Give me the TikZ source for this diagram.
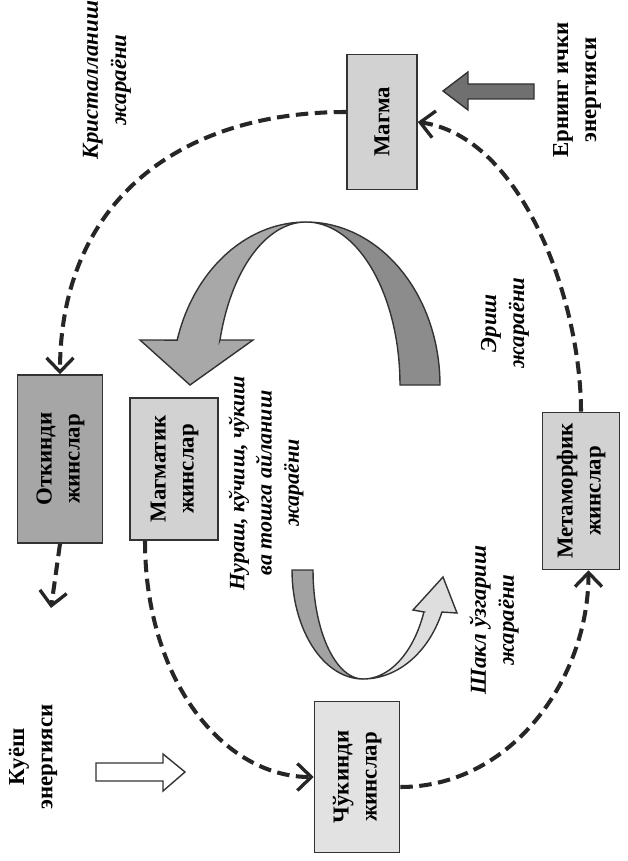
\documentclass[tikz,border=0pt]{standalone}
\usepackage{fontspec}
\setmainfont{Liberation Serif}
\usepackage{graphicx}
\usetikzlibrary{arrows.meta, positioning, calc}

\definecolor{boxlight}{HTML}{D2D2D2}
\definecolor{boxpale}{HTML}{E2E2E2}
\definecolor{boxdark}{HTML}{A6A6A6}
\definecolor{bigleft}{HTML}{A8A8A8}
\definecolor{bigright}{HTML}{8C8C8C}
\definecolor{smallleft}{HTML}{A2A2A2}
\definecolor{smallright}{HTML}{DEDEDE}
\definecolor{earthfill}{HTML}{707070}

\newcommand{\twolines}[2]{\rotatebox{90}{\begin{tabular}{@{}c@{}}#1\\#2\end{tabular}}}

\begin{document}
\begin{tikzpicture}[x=0.02cm, y=-0.02cm,
    rockbox/.style={draw=black!80, line width=0.9pt, inner sep=0pt,
      font=\bfseries\fontsize{13}{16}\selectfont},
    cycleline/.style={draw=black!85, line width=2.3pt, dash pattern=on 2.5mm off 1.3mm,
      -{Straight Barb[length=2.8mm, width=5.4mm, line width=1.9pt]}},
    proclabel/.style={rotate=90, align=center, font=\bfseries\itshape\fontsize{13}{16}\selectfont},
    energylabel/.style={rotate=90, align=center, font=\bfseries\fontsize{13}{16}\selectfont}]

      \useasboundingbox[fill=white] (0,0) rectangle (627,861);

      % rock boxes
      \node[rockbox, fill=boxlight, minimum width=1.4cm, minimum height=2.7cm] (magma) at (382,122) {\rotatebox{90}{Магма}};
      \node[rockbox, fill=boxdark, minimum width=1.7cm, minimum height=3.36cm] (otk) at (60,459) {\twolines{Откинди}{жинслар}};
      \node[rockbox, fill=boxlight, minimum width=1.76cm, minimum height=2.84cm] (magmatic) at (174,469) {\twolines{Магматик}{жинслар}};
      \node[rockbox, fill=boxlight, minimum width=1.54cm, minimum height=3.14cm] (metam) at (581,491) {\twolines{Метаморфик}{жинслар}};
      \node[rockbox, fill=boxpale, minimum width=1.7cm, minimum height=3.02cm] (chuk) at (357,777) {\twolines{Чўкинди}{жинслар}};

      % process labels
      \node[proclabel] (crystlabel) at (107,80) {Кристалланиш\\жараёни};
      \node[proclabel] (meltlabel) at (505,323) {Эриш\\жараёни};
      \node[proclabel, font=\bfseries\itshape\fontsize{12.5}{15.5}\selectfont] (weatherlabel) at (266,483) {Нураш, кўчиш, чўкиш\\ва тошга айланиш\\жараёни};
      \node[proclabel] (shapelabel) at (494,620) {Шакл ўзгариш\\жараёни};
      \node[energylabel] (earthlabel) at (577,90) {Ернинг ички\\энергияси};
      \node[energylabel] (sunlabel) at (33,757) {Куёш\\энергияси};

      % dashed cycle
      \coordinate (magmaout) at ([yshift=0.2cm]magma.west);
      \draw[cycleline] (metam.north) .. controls +(0,-110) and +(105,15) .. (magma.east);
      \draw[cycleline] (magmaout) .. controls +(-170,0) and +(0,-170) .. (otk.north);
      \coordinate (otkend) at (51,608);
      \draw[cycleline] (otk.south) -- (otkend);
      \draw[cycleline] ([xshift=-0.58cm]magmatic.south) .. controls +(0,140) and +(-90,0) .. (chuk.west);
      \draw[cycleline] ([yshift=-0.2cm]chuk.east) .. controls +(110,0) and +(0,110) .. ([xshift=0.15cm]metam.south);

      % energy arrows
      \draw[fill=earthfill, draw=black!80, line width=0.8pt] (443,91) -- (468,72) -- (468,84) -- (534,84) -- (534,99) -- (468,99) -- (468,110) -- cycle;
      \draw[fill=white, draw=black!80, line width=0.8pt] (96,763) -- (163,763) -- (163,754) -- (185,772) -- (163,791) -- (163,781) -- (96,781) -- cycle;

      % big twisted arrow (melting)
      \draw[fill=bigleft, draw=black!80, line width=0.8pt]
        plot[domain=90:164, samples=40, variable=\t] ({306+134*cos(\t)}, {385-163*sin(\t)})
        -- (140,340) -- (190,385) -- (253,340) -- (220,340)
        -- plot[domain=0:74, samples=40, variable=\t] ({306+89.5*cos(164-\t)}, {385-163*sin(164-\t)}) -- cycle;
      \draw[fill=bigright, draw=black!80, line width=0.8pt]
        plot[domain=0:90, samples=40, variable=\t] ({306+134*cos(90-\t)}, {385-163*sin(90-\t)})
        -- (400,385)
        -- plot[domain=0:90, samples=40, variable=\t] ({306+94*cos(\t)}, {385-163*sin(\t)}) -- cycle;

      % small twisted arrow (deformation)
      \draw[fill=smallleft, draw=black!80, line width=0.8pt]
        plot[domain=0:90, samples=30, variable=\t] ({363+71*cos(180-\t)}, {570+109*sin(180-\t)})
        -- plot[domain=90:180, samples=30, variable=\t] ({363+50*cos(\t)}, {570+109*sin(\t)}) -- cycle;
      \draw[fill=smallright, draw=black!80, line width=0.8pt]
        plot[domain=0:67.3, samples=30, variable=\t] ({363+85.6*cos(90-\t)}, {570+109*sin(90-\t)})
        -- (457,613) -- (443,577) -- (413,610) -- (424,612)
        -- plot[domain=22.7:90, samples=30, variable=\t] ({363+66*cos(\t)}, {570+109*sin(\t)}) -- cycle;

    \end{tikzpicture}
\end{document}
